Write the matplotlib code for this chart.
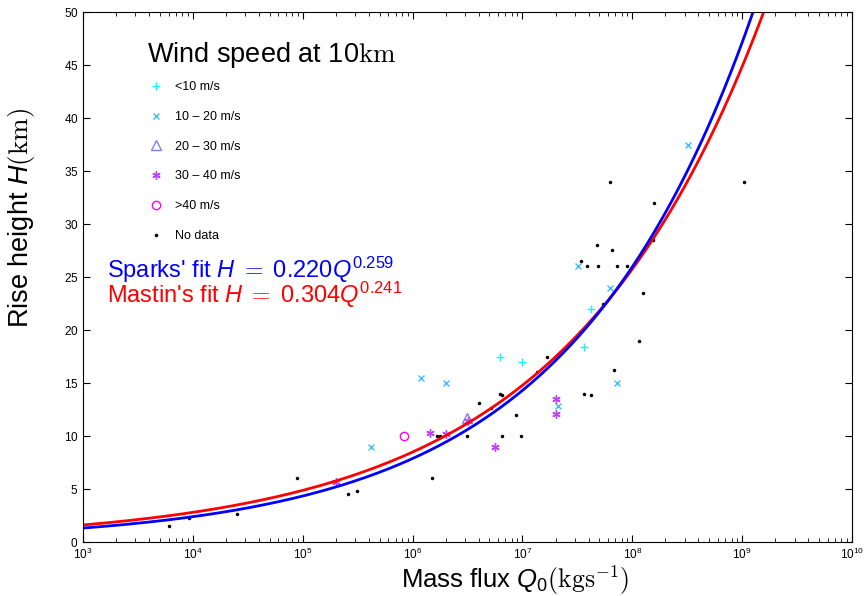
import numpy as np
import matplotlib
matplotlib.use('Agg')
from matplotlib import pyplot as plt

plt.rcParams['font.family'] = ['Liberation Sans', 'DejaVu Sans']
plt.rcParams['mathtext.fontset'] = 'custom'
plt.rcParams['mathtext.rm'] = 'cmr10'
plt.rcParams['mathtext.it'] = 'Liberation Sans:italic'
plt.rcParams['mathtext.sf'] = 'Liberation Sans'
plt.rcParams['axes.formatter.use_mathtext'] = True

# fit parameters
sparks_a, sparks_b = 0.220, 0.259
mastin_a, mastin_b = 0.304, 0.241

# observations by wind speed at 10 km
q_lt10 = [6.2e6, 1.0e7, 3.6e7, 4.2e7]
h_lt10 = [17.5, 17.0, 18.4, 22.0]

q_10_20 = [4.2e5, 1.2e6, 2.0e6, 2.1e7, 3.2e7, 6.3e7, 7.2e7, 3.2e8]
h_10_20 = [9.0, 15.5, 15.0, 12.8, 26.0, 24.0, 15.0, 37.5]

q_20_30 = [3.1e6]
h_20_30 = [11.7]

q_30_40 = [2.0e5, 1.45e6, 2.0e6, 3.2e6, 5.6e6, 2.0e7, 2.0e7]
h_30_40 = [5.7, 10.3, 10.2, 11.4, 9.0, 13.5, 12.1]

q_gt40 = [8.3e5]
h_gt40 = [10.0]

q_nodata = [6.0e3, 9.3e3, 2.5e4, 8.9e4, 2.6e5, 3.1e5, 1.5e6, 1.66e6, 1.76e6, 3.1e6,
            4.0e6, 5.2e6, 6.3e6, 6.5e6, 6.5e6, 8.7e6, 9.8e6, 1.35e7, 1.66e7, 3.6e7,
            4.2e7, 5.4e7, 6.8e7, 1.15e8, 1.26e8, 3.4e7, 3.9e7, 4.9e7, 7.2e7, 8.9e7,
            4.8e7, 6.6e7, 1.55e8, 6.3e7, 1.58e8, 1.05e9]
h_nodata = [1.5, 2.25, 2.6, 6.0, 4.5, 4.8, 6.0, 10.0, 10.0, 10.0,
            13.1, 12.6, 14.0, 13.9, 10.0, 12.0, 10.0, 16.0, 17.5, 14.0,
            13.9, 22.5, 16.25, 19.0, 23.5, 26.5, 26.0, 26.0, 26.0, 26.0,
            28.0, 27.6, 28.5, 34.0, 32.0, 34.0]

cool = plt.get_cmap('cool')
cols = [cool(i / 4) for i in range(5)]

fig = plt.figure(figsize=(8.65, 5.96), dpi=100)
ax = fig.add_axes([0.096, 0.0906, 0.889, 0.889])

ax.plot(q_lt10, h_lt10, '+', color=cols[0], ms=6, mew=1, label='<10 m/s')
ax.plot(q_10_20, h_10_20, 'x', color=cols[1], ms=4.5, mew=1, label=u'10 \u2013 20 m/s')
ax.plot(q_20_30, h_20_30, '^', mfc='none', color=cols[2], ms=7, mew=1, label=u'20 \u2013 30 m/s')
ax.plot(q_30_40, h_30_40, ls='none', marker=(6, 2, 0), color=cols[3], ms=6, mew=1, label=u'30 \u2013 40 m/s')
ax.plot(q_gt40, h_gt40, 'o', mfc='none', color=cols[4], ms=6, mew=1, label='>40 m/s')
ax.plot(q_nodata, h_nodata, '.', color='k', ms=3, label='No data')

qq = np.logspace(3, 10, 400)
ax.plot(qq, mastin_a * qq ** mastin_b, color='red', lw=2)
ax.plot(qq, sparks_a * qq ** sparks_b, color='blue', lw=2)

ax.set_xscale('log')
ax.set_xlim(1e3, 1e10)
ax.set_ylim(0, 50)
ax.set_yticks(range(0, 51, 5))
ax.tick_params(which='both', direction='in', top=True, right=True, labelsize=8.5)
ax.tick_params(which='major', length=5)
ax.tick_params(which='minor', length=3)

ax.set_xlabel(r'Mass flux $\mathit{Q}_\mathsf{0}(\mathrm{kgs^{-1}})$', fontsize=18.5)
ax.xaxis.set_label_coords(0.562, -0.040)
ax.set_ylabel(r'Rise height $\mathit{H}(\mathrm{km})$', fontsize=19.5)
ax.yaxis.set_label_coords(-0.060, 0.612)

# legend title as its own text
ax.text(0.083, 0.919, r'Wind speed at 10$\mathrm{km}$', fontsize=19.5,
        transform=ax.transAxes, va='center', ha='left')
leg = ax.legend(loc='upper left', bbox_to_anchor=(0.068, 0.891), frameon=False,
                fontsize=9, labelspacing=1.42, handletextpad=0.8, numpoints=1,
                handlelength=1.5)

ax.text(0.031, 0.513, r"Sparks' fit $\mathit{H}\ =\ \mathsf{0.220}\mathit{Q}^{\mathsf{0.259}}$",
        color='blue', fontsize=17, transform=ax.transAxes, va='center')
ax.text(0.031, 0.466, r"Mastin's fit $\mathit{H}\ =\ \mathsf{0.304}\mathit{Q}^{\mathsf{0.241}}$",
        color='red', fontsize=17, transform=ax.transAxes, va='center')

plt.savefig('out.png', dpi=100)
